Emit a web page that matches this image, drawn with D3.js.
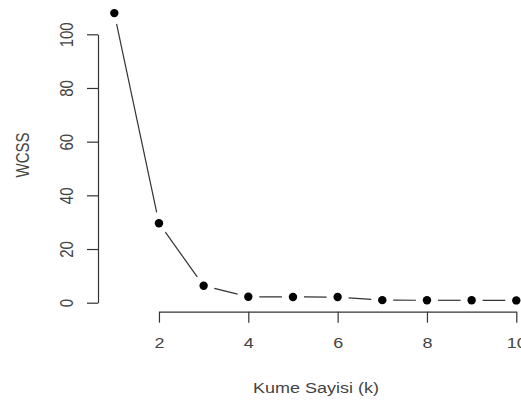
<!DOCTYPE html>
<html>
<head>
<meta charset="utf-8">
<script src="https://cdn.jsdelivr.net/npm/d3@7"></script>
<style>
  body { margin: 0; background: #fff; }
  text { font-family: "Liberation Sans", Arial, sans-serif; fill: #444; }
</style>
</head>
<body>
<script>
// k values and within-cluster sum of squares
const kValues = [1, 2, 3, 4, 5, 6, 7, 8, 9, 10];
const wcss = [107.9, 29.6, 6.3, 2.2, 2.15, 2.1, 0.95, 0.9, 0.9, 0.85];
const xTicks = [2, 4, 6, 8, 10];
const yTicks = [0, 20, 40, 60, 80, 100];

const width = 521;
const height = 403;
const fontSize = 15;
const stretch = 1.2; // picture text is a bit wider than tall

const svg = d3.select('body')
  .append('svg')
  .attr('width', width)
  .attr('height', height)
  .style('background-color', 'white');

const xScale = d3.scaleLinear()
  .domain([1, 10])
  .range([114.3, 516.3]);

const yScale = d3.scaleLinear()
  .domain([0, 100])
  .range([302.7, 34.3]);

// R style axes: the line only runs from first to last tick
const xAxisScale = xScale.copy().domain([2, 10]).range([xScale(2), xScale(10)]);
const xAxis = d3.axisBottom(xAxisScale)
  .tickValues(xTicks)
  .tickSize(11)
  .tickSizeOuter(0)
  .tickFormat(d3.format('d'));

const gx = svg.append('g')
  .attr('transform', 'translate(0,311.7)')
  .call(xAxis);
gx.selectAll('path, line').attr('stroke', '#333').attr('stroke-width', 1.2);
gx.selectAll('text')
  .attr('y', 31)
  .attr('dy', '0.35em')
  .attr('transform', `scale(${stretch},1)`)
  .style('font-size', fontSize + 'px')
  .style('fill', '#444');

const yAxis = d3.axisLeft(yScale)
  .tickValues(yTicks)
  .tickSize(11)
  .tickSizeOuter(0);

const gy = svg.append('g')
  .attr('transform', 'translate(98,0)')
  .call(yAxis);
gy.selectAll('path, line').attr('stroke', '#333').attr('stroke-width', 1.2);
gy.selectAll('text')
  .attr('x', 0)
  .attr('y', 0)
  .attr('dy', '0.35em')
  .attr('text-anchor', 'middle')
  .attr('transform', `translate(-31,0) scale(${stretch},1) rotate(-90)`)
  .style('font-size', fontSize + 'px')
  .style('fill', '#444');

// axis titles
svg.append('text')
  .text('Kume Sayisi (k)')
  .attr('text-anchor', 'middle')
  .attr('dy', '0.35em')
  .attr('transform', `translate(316,388) scale(${stretch},1)`)
  .style('font-size', fontSize + 'px');

svg.append('text')
  .text('WCSS')
  .attr('text-anchor', 'middle')
  .attr('dy', '0.35em')
  .attr('transform', `translate(23,155) scale(${stretch},1) rotate(-90)`)
  .style('font-size', fontSize + 'px');

// type = "b": segments stop short of the points
const gap = 11;
const pts = kValues.map((k, i) => [xScale(k), yScale(wcss[i])]);
const segs = d3.pairs(pts).map(([a, b]) => {
  const dx = b[0] - a[0], dy = b[1] - a[1];
  const len = Math.hypot(dx, dy);
  const ux = dx / len, uy = dy / len;
  return [a[0] + ux * gap, a[1] + uy * gap, b[0] - ux * gap, b[1] - uy * gap, len];
}).filter(s => s[4] > 2 * gap);

svg.selectAll('.seg')
  .data(segs)
  .enter()
  .append('line')
  .attr('class', 'seg')
  .attr('x1', d => d[0])
  .attr('y1', d => d[1])
  .attr('x2', d => d[2])
  .attr('y2', d => d[3])
  .attr('stroke', '#333')
  .attr('stroke-width', 1.2);

svg.selectAll('.pt')
  .data(kValues)
  .enter()
  .append('circle')
  .attr('class', 'pt')
  .attr('cx', d => xScale(d))
  .attr('cy', (d, i) => yScale(wcss[i]))
  .attr('r', 4.2)
  .attr('fill', '#000');
</script>
</body>
</html>
